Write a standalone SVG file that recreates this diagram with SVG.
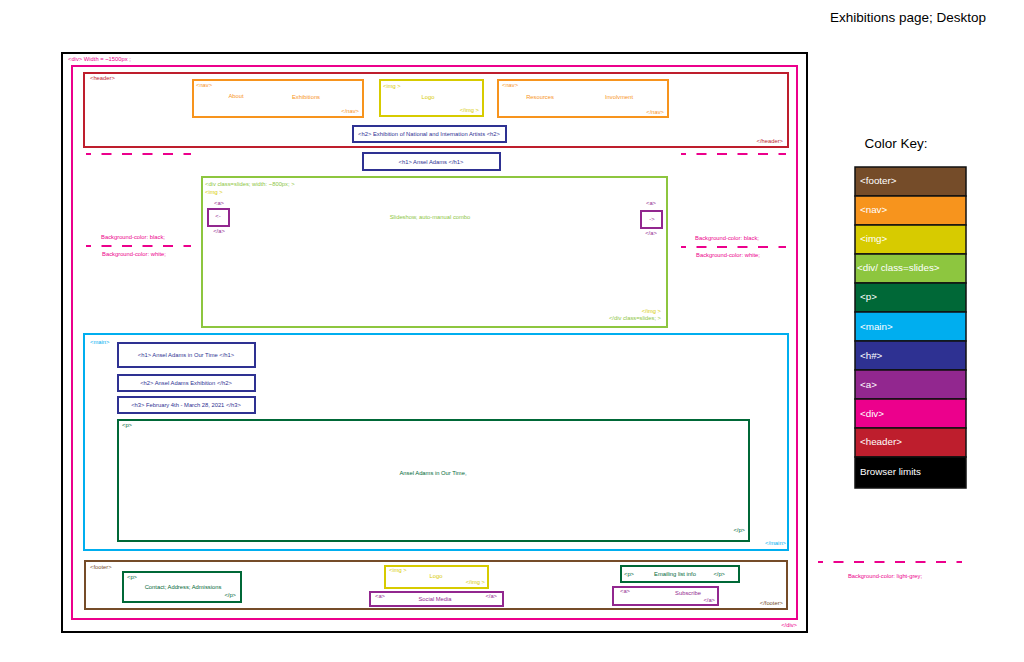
<svg xmlns="http://www.w3.org/2000/svg" width="1024" height="662" viewBox="0 0 1024 662">
<style>
text{font-family:"Liberation Sans",Arial,sans-serif;font-size:5.8px}
.box{fill:none;stroke-width:2}
.ft{stroke:#754C29}.fnav{stroke:#F7941D}.fimg{stroke:#D7CB00}.fsl{stroke:#8DC63F}.fp{stroke:#006837}.fmain{stroke:#00AEEF}.fh{stroke:#2E3192}.fa{stroke:#92278F}.fdiv{stroke:#EC008C}.fhd{stroke:#BE1E2D}
.tft{fill:#754C29}.tnav{fill:#F7941D}.timg{fill:#D7CB00}.tsl{fill:#8DC63F}.tp{fill:#006837}.tmain{fill:#00AEEF}.th{fill:#2E3192}.ta{fill:#92278F}.tdiv{fill:#EC008C}.thd{fill:#BE1E2D}
.m{text-anchor:middle}.e{text-anchor:end}
.dash{stroke:#EC008C;stroke-width:2;stroke-dasharray:10 10.5;stroke-dashoffset:5;fill:none}
.key rect{stroke:#111;stroke-width:1.5}
.key text{fill:#fff;font-size:9.8px}
</style>
<rect width="1024" height="662" fill="#fff"/>
<text x="908" y="22" class="m" style="font-size:13.5px" fill="#000">Exhibitions page; Desktop</text>

<g id="browser">
<rect x="62" y="53" width="745" height="579" class="box" stroke="#000"/>
</g>
<g id="div">
<text x="68" y="61" class="tdiv">&lt;div&gt; Width = ~1500px ;</text>
<rect x="72" y="66" width="725" height="553" class="box fdiv"/>
<text x="797" y="627" class="tdiv e">&lt;/div&gt;</text>
</g>

<g id="header">
<rect x="84" y="73" width="704" height="74" class="box fhd"/>
<text x="90" y="80" class="thd">&lt;header&gt;</text>
<text x="783" y="143" class="thd e">&lt;/header&gt;</text>
</g>
<g id="nav1">
<rect x="193" y="80" width="170" height="37" class="box fnav"/>
<text x="196" y="87" class="tnav">&lt;nav&gt;</text>
<text x="236" y="98" class="tnav m">About</text>
<text x="306" y="99" class="tnav m">Exhibitions</text>
<text x="359" y="113" class="tnav e">&lt;/nav&gt;</text>
</g>
<g id="img-logo">
<rect x="380" y="80" width="103" height="36" class="box fimg"/>
<text x="383" y="88" class="timg">&lt;img &gt;</text>
<text x="428" y="99" class="timg m">Logo</text>
<text x="479" y="112" class="timg e">&lt;/img &gt;</text>
</g>
<g id="nav2">
<rect x="498" y="80" width="170" height="37" class="box fnav"/>
<text x="502" y="87" class="tnav">&lt;nav&gt;</text>
<text x="540" y="99" class="tnav m">Resources</text>
<text x="619" y="99" class="tnav m">Involvment</text>
<text x="664" y="114" class="tnav e">&lt;/nav&gt;</text>
</g>
<g id="h2-header">
<rect x="353" y="126" width="153" height="16" class="box fh"/>
<text x="429" y="136" class="th m">&lt;h2&gt; Exhibition of National and Internation Artists &lt;h2&gt;</text>
</g>
<g id="h1">
<rect x="363" y="153" width="137" height="17" class="box fh"/>
<text x="431" y="164" class="th m">&lt;h1&gt; Ansel Adams &lt;/h1&gt;</text>
</g>

<g id="connectors">
<line x1="86" y1="154" x2="191" y2="154" class="dash"/>
<line x1="681" y1="154" x2="786" y2="154" class="dash"/>
<line x1="86" y1="246" x2="191" y2="246" class="dash"/>
<line x1="681" y1="247" x2="786" y2="247" class="dash"/>
<line x1="818" y1="562" x2="962" y2="562" class="dash"/>
</g>

<g id="bg-left">
<text x="133" y="239" class="tdiv m">Background-color: black;</text>
<text x="134" y="256" class="tdiv m">Background-color: white;</text>
</g>
<g id="bg-right">
<text x="727" y="240" class="tdiv m">Background-color: black;</text>
<text x="728" y="257" class="tdiv m">Background-color: white;</text>
</g>

<g id="slides">
<rect x="202" y="177" width="465" height="150" class="box fsl"/>
<text x="205" y="186" class="tsl">&lt;div class=slides; width: ~800px; &gt;</text>
<text x="205" y="194" class="timg">&lt;img &gt;</text>
<text x="430" y="219" class="tsl m">Slideshow, auto-manual combo</text>
<text x="661" y="313" class="timg e">&lt;/img &gt;</text>
<text x="661" y="320" class="tsl e">&lt;/div class=slides; &gt;</text>
</g>
<g id="a-prev">
<text x="219" y="205" class="ta m">&lt;a&gt;</text>
<rect x="208" y="209" width="21" height="17" class="box fa"/>
<text x="218" y="218" class="ta m">&lt;-</text>
<text x="219" y="233" class="ta m">&lt;/a&gt;</text>
</g>
<g id="a-next">
<text x="651" y="205" class="ta m">&lt;a&gt;</text>
<rect x="641" y="211" width="21" height="17" class="box fa"/>
<text x="652" y="221" class="ta m">-&gt;</text>
<text x="651" y="235" class="ta m">&lt;/a&gt;</text>
</g>

<g id="main">
<rect x="84" y="334" width="704" height="216" class="box fmain"/>
<text x="90" y="344" class="tmain">&lt;main&gt;</text>
<text x="786" y="545" class="tmain e">&lt;/main&gt;</text>
</g>
<g id="main-h1">
<rect x="118" y="343" width="137" height="24" class="box fh"/>
<text x="186" y="357" class="th m">&lt;h1&gt; Ansel Adams in Our Time &lt;/h1&gt;</text>
</g>
<g id="main-h2">
<rect x="118" y="375" width="137" height="16" class="box fh"/>
<text x="186" y="385" class="th m">&lt;h2&gt; Ansel Adams Exhibition &lt;/h2&gt;</text>
</g>
<g id="main-h3">
<rect x="118" y="397" width="137" height="16" class="box fh"/>
<text x="186" y="407" class="th m">&lt;h3&gt; February 4th - March 28, 2021 &lt;/h3&gt;</text>
</g>
<g id="main-p">
<rect x="118" y="420" width="631" height="121" class="box fp"/>
<text x="122" y="427" class="tp">&lt;p&gt;</text>
<text x="433" y="475" class="tp m">Ansel Adams in Our Time,</text>
<text x="745" y="532" class="tp e">&lt;/p&gt;</text>
</g>

<g id="footer">
<rect x="85" y="561" width="702" height="48" class="box ft"/>
<text x="90" y="569" class="tft">&lt;footer&gt;</text>
<text x="783" y="605" class="tft e">&lt;/footer&gt;</text>
</g>
<g id="footer-p">
<rect x="123" y="572" width="118" height="30" class="box fp"/>
<text x="127" y="579" class="tp">&lt;p&gt;</text>
<text x="183" y="589" class="tp m">Contact; Address; Admissions</text>
<text x="236" y="597" class="tp e">&lt;/p&gt;</text>
</g>
<g id="footer-img">
<rect x="385" y="566" width="103" height="22" class="box fimg"/>
<text x="389" y="572" class="timg">&lt;img &gt;</text>
<text x="436" y="578" class="timg m">Logo</text>
<text x="485" y="584" class="timg e">&lt;/img &gt;</text>
</g>
<g id="footer-social">
<rect x="370" y="592" width="133" height="14" class="box fa"/>
<text x="375" y="598" class="ta">&lt;a&gt;</text>
<text x="435" y="601" class="ta m">Social Media</text>
<text x="497" y="598" class="ta e">&lt;/a&gt;</text>
</g>
<g id="footer-email">
<rect x="621" y="566" width="118" height="16" class="box fp"/>
<text x="624" y="576" class="tp">&lt;p&gt;</text>
<text x="675" y="576" class="tp m">Emailing list info</text>
<text x="725" y="576" class="tp e">&lt;/p&gt;</text>
</g>
<g id="footer-subscribe">
<rect x="613" y="587" width="105" height="18" class="box fa"/>
<text x="620" y="593" class="ta">&lt;a&gt;</text>
<text x="688" y="595" class="ta m">Subscribe</text>
<text x="715" y="602" class="ta e">&lt;/a&gt;</text>
</g>
<g id="bg-footer">
<text x="885" y="578" class="tdiv m">Background-color: light-grey;</text>
</g>

<g id="color-key" class="key">
<text x="896" y="148" class="m" style="fill:#000;font-size:13.5px">Color Key:</text>
<rect x="855" y="167" width="111" height="29" fill="#754C29"/>
<rect x="855" y="196" width="111" height="29" fill="#F7941D"/>
<rect x="855" y="225" width="111" height="29" fill="#D7CB00"/>
<rect x="855" y="254" width="111" height="29" fill="#8DC63F"/>
<rect x="855" y="283" width="111" height="29" fill="#006837"/>
<rect x="855" y="312" width="111" height="29" fill="#00AEEF"/>
<rect x="855" y="341" width="111" height="29" fill="#2E3192"/>
<rect x="855" y="370" width="111" height="29" fill="#92278F"/>
<rect x="855" y="399" width="111" height="29" fill="#EC008C"/>
<rect x="855" y="428" width="111" height="29" fill="#BE1E2D"/>
<rect x="855" y="457" width="111" height="31" fill="#000"/>
<text x="860" y="184">&lt;footer&gt;</text>
<text x="860" y="213">&lt;nav&gt;</text>
<text x="860" y="242">&lt;img&gt;</text>
<text x="857" y="271">&lt;div/ class=slides&gt;</text>
<text x="860" y="300">&lt;p&gt;</text>
<text x="860" y="330">&lt;main&gt;</text>
<text x="860" y="359">&lt;h#&gt;</text>
<text x="860" y="388">&lt;a&gt;</text>
<text x="860" y="417">&lt;div&gt;</text>
<text x="860" y="445">&lt;header&gt;</text>
<text x="860" y="475">Browser limits</text>
</g>
</svg>
